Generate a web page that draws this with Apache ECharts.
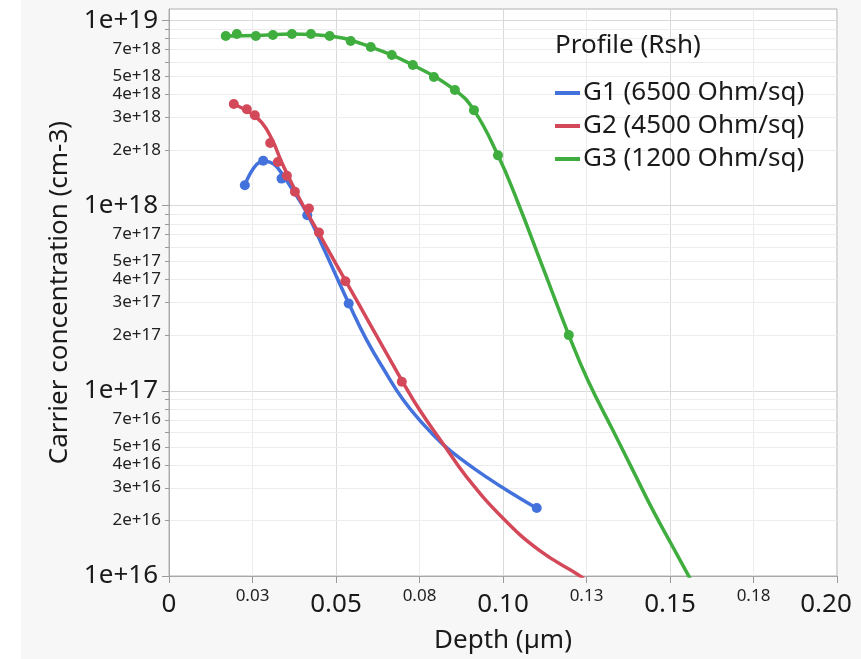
<!DOCTYPE html>
<html>
<head>
<meta charset="utf-8">
<script src="https://cdn.jsdelivr.net/npm/echarts@6/dist/echarts.min.js"></script>
<style>
html,body{margin:0;padding:0;background:#ffffff;}
#chart{width:861px;height:659px;}
</style>
</head>
<body>
<div id="chart"></div>
<script>
// ---- data ----
const seriesNames = ['G1 (6500 Ohm/sq)', 'G2 (4500 Ohm/sq)', 'G3 (1200 Ohm/sq)'];
const seriesColors = ['#4472dd', '#d4495a', '#3fae3f'];

// measured points
const g1Depth = [0.0227, 0.0282, 0.0337, 0.0414, 0.0538, 0.1101];
const g1Conc  = [1.29e18, 1.75e18, 1.40e18, 8.88e17, 2.96e17, 2.33e16];
const g2Depth = [0.0194, 0.0233, 0.0257, 0.0303, 0.0326, 0.0353, 0.0377, 0.0419, 0.0449, 0.0528, 0.0697];
const g2Conc  = [3.54e18, 3.32e18, 3.08e18, 2.18e18, 1.72e18, 1.45e18, 1.19e18, 9.66e17, 7.16e17, 3.91e17, 1.12e17];
const g3Depth = [0.0170, 0.0203, 0.0260, 0.0311, 0.0368, 0.0425, 0.0481, 0.0544, 0.0604, 0.0667, 0.0730, 0.0793, 0.0856, 0.0913, 0.0985, 0.1197];
const g3Conc  = [8.24e18, 8.45e18, 8.24e18, 8.35e18, 8.45e18, 8.45e18, 8.24e18, 7.75e18, 7.19e18, 6.51e18, 5.75e18, 4.95e18, 4.21e18, 3.28e18, 1.87e18, 2.0e17];

// smoother curves
const g1CurveDepth = [0.0227, 0.0281, 0.0302, 0.0323, 0.0371, 0.0413, 0.0460, 0.0505, 0.0538, 0.0592, 0.0646, 0.0700, 0.0751, 0.0820, 0.0892, 0.0952, 0.1021, 0.1101];
const g1CurveConc  = [1.29e18, 1.74e18, 1.72e18, 1.62e18, 1.21e18, 9.11e17, 6.04e17, 4.01e17, 2.97e17, 1.88e17, 1.28e17, 9.0e16, 6.93e16, 5.14e16, 4.06e16, 3.41e16, 2.83e16, 2.32e16];
const g2CurveDepth = [0.0194, 0.0242, 0.0278, 0.0308, 0.0341, 0.0392, 0.0445, 0.0502, 0.0565, 0.0631, 0.0697, 0.0751, 0.0820, 0.0892, 0.1000, 0.1110, 0.1224, 0.1242];
const g2CurveConc  = [3.54e18, 3.18e18, 2.81e18, 2.29e18, 1.66e18, 1.08e18, 7.28e17, 4.77e17, 3.01e17, 1.85e17, 1.14e17, 7.85e16, 5.20e16, 3.41e16, 2.05e16, 1.37e16, 1.02e16, 9.7e15];
const g3CurveDepth = [0.0170, 0.0260, 0.0368, 0.0481, 0.0604, 0.0730, 0.0856, 0.0913, 0.0985, 0.1042, 0.1119, 0.1197, 0.1254, 0.1329, 0.1389, 0.1449, 0.1509, 0.1560];
const g3CurveConc  = [8.24e18, 8.30e18, 8.45e18, 8.24e18, 7.19e18, 5.75e18, 4.21e18, 3.28e18, 1.87e18, 1.07e18, 4.66e17, 2.0e17, 1.14e17, 6.12e16, 3.72e16, 2.26e16, 1.43e16, 9.7e15];

// tick labels
const xTickLabels = ['0', '0.03', '0.05', '0.08', '0.10', '0.13', '0.15', '0.18', '0.20'];
const yMajorTicks = [1e16, 1e17, 1e18, 1e19];
const yMajorLabels = ['1e+16', '1e+17', '1e+18', '1e+19'];
const yMinorTicks = [2e16, 3e16, 4e16, 5e16, 6e16, 7e16, 8e16, 9e16,
                     2e17, 3e17, 4e17, 5e17, 6e17, 7e17, 8e17, 9e17,
                     2e18, 3e18, 4e18, 5e18, 6e18, 7e18, 8e18, 9e18];
const yMinorLabels = ['2e+16', '3e+16', '4e+16', '5e+16', '', '7e+16', '', '',
                      '2e+17', '3e+17', '4e+17', '5e+17', '', '7e+17', '', '',
                      '2e+18', '3e+18', '4e+18', '5e+18', '', '7e+18', '', ''];

// ---- chart ----
const FONT = 'Noto Sans';
function pairs(xs, ys) { return xs.map((x, i) => [x, ys[i]]); }

const curves = [[g1CurveDepth, g1CurveConc], [g2CurveDepth, g2CurveConc], [g3CurveDepth, g3CurveConc]];
const points = [[g1Depth, g1Conc], [g2Depth, g2Conc], [g3Depth, g3Conc]];

const series = [{
  type: 'custom',
  name: 'minorGrid',
  silent: true,
  z: 1,
  clip: false,
  data: yMinorTicks.map((v, i) => [0, v, i]),
  encode: { x: 0, y: 1 },
  renderItem: function (params, api) {
    const v = api.value(1);
    const i = api.value(2);
    const p0 = api.coord([0, v]);
    const p1 = api.coord([0.2, v]);
    const y = Math.round(p0[1]) + 0.5;
    return {
      type: 'group',
      children: [
        { type: 'line', shape: { x1: p0[0] + 1, y1: y, x2: p1[0], y2: y }, style: { stroke: '#ededed', lineWidth: 1 } },
        { type: 'line', shape: { x1: p0[0] - 4, y1: y, x2: p0[0], y2: y }, style: { stroke: '#9a9a9a', lineWidth: 1 } },
        { type: 'text', x: p0[0] - 8, y: p0[1], style: { text: yMinorLabels[i], align: 'right', verticalAlign: 'middle', fontSize: 17, fontFamily: FONT, fill: '#222' } }
      ]
    };
  }
}];

for (let k = 0; k < 3; k++) {
  series.push({
    name: seriesNames[k], type: 'line', smooth: 0.45, showSymbol: false, symbol: 'none',
    data: pairs(curves[k][0], curves[k][1]),
    lineStyle: { width: 3.5, color: seriesColors[k] }, itemStyle: { color: seriesColors[k] },
    z: 3 + k * 2, clip: true, silent: true
  });
  series.push({
    name: seriesNames[k], type: 'scatter', symbolSize: 10,
    data: pairs(points[k][0], points[k][1]),
    itemStyle: { color: seriesColors[k], opacity: 1 }, z: 4 + k * 2, silent: true
  });
}

const chart = echarts.init(document.getElementById('chart'), null, { renderer: 'canvas' });
chart.setOption({
  animation: false,
  backgroundColor: '#f7f7f7',
  textStyle: { fontFamily: FONT },
  graphic: [{ type: 'rect', shape: { x: 0, y: 0, width: 21, height: 659 }, style: { fill: '#ffffff' }, silent: true }],
  title: {
    text: 'Profile (Rsh)', left: 550, top: 28,
    textStyle: { fontSize: 26, fontWeight: 'normal', color: '#1a1a1a', fontFamily: FONT }
  },
  legend: {
    data: seriesNames, orient: 'vertical', left: 550, top: 75, itemGap: 7,
    icon: 'rect', itemWidth: 25, itemHeight: 4, selectedMode: false,
    textStyle: { fontSize: 26, color: '#1a1a1a', fontFamily: FONT, padding: [0, 0, 0, -2] }
  },
  grid: {
    left: 169, right: 24, top: 9, bottom: 83, show: true,
    backgroundColor: '#ffffff', borderColor: '#b0b0b0', borderWidth: 1,
    containLabel: false, outerBoundsMode: 'none'
  },
  xAxis: {
    type: 'value', min: 0, max: 0.2, interval: 0.025,
    name: 'Depth (µm)', nameLocation: 'middle', nameGap: 52,
    nameTextStyle: { fontSize: 26, color: '#1a1a1a', fontFamily: FONT },
    axisLine: { show: true, lineStyle: { color: '#a8a8a8', width: 1 } },
    axisTick: { show: true, length: 7, lineStyle: { color: '#9a9a9a' } },
    axisLabel: {
      margin: 7, color: '#1a1a1a',
      formatter: function (value) {
        const i = Math.round(value / 0.025);
        const t = xTickLabels[i] || '';
        if (i === xTickLabels.length - 1) return '{c|' + t + '}';
        return i % 2 === 0 ? '{a|' + t + '}' : '{b|' + t + '}';
      },
      rich: {
        a: { fontSize: 26, lineHeight: 44, fontFamily: FONT, color: '#1a1a1a' },
        b: { fontSize: 17, lineHeight: 26, fontFamily: FONT, color: '#222' },
        c: { fontSize: 26, lineHeight: 44, fontFamily: FONT, color: '#1a1a1a', padding: [0, 22, 0, 0] }
      }
    },
    splitLine: { show: true, lineStyle: { color: ['#d9d9d9', '#ececec'], width: 1 } }
  },
  yAxis: {
    type: 'log', logBase: 10, min: 1e16, max: 1.154e19,
    name: 'Carrier concentration (cm-3)', nameLocation: 'middle', nameGap: 96,
    nameTextStyle: { fontSize: 26, color: '#1a1a1a', fontFamily: FONT },
    axisLine: { show: true, lineStyle: { color: '#a8a8a8', width: 1 } },
    axisTick: { show: true, length: 7, lineStyle: { color: '#9a9a9a' }, customValues: yMajorTicks },
    axisLabel: {
      margin: 11, fontSize: 26, color: '#1a1a1a', fontFamily: FONT,
      formatter: function (value) {
        for (let k = 0; k < yMajorTicks.length; k++) {
          if (Math.abs(Math.log10(value) - Math.log10(yMajorTicks[k])) < 1e-6) return yMajorLabels[k];
        }
        return '';
      }
    },
    splitLine: { show: true, lineStyle: { color: '#d9d9d9', width: 1 } }
  },
  series: series
});
</script>
</body>
</html>
